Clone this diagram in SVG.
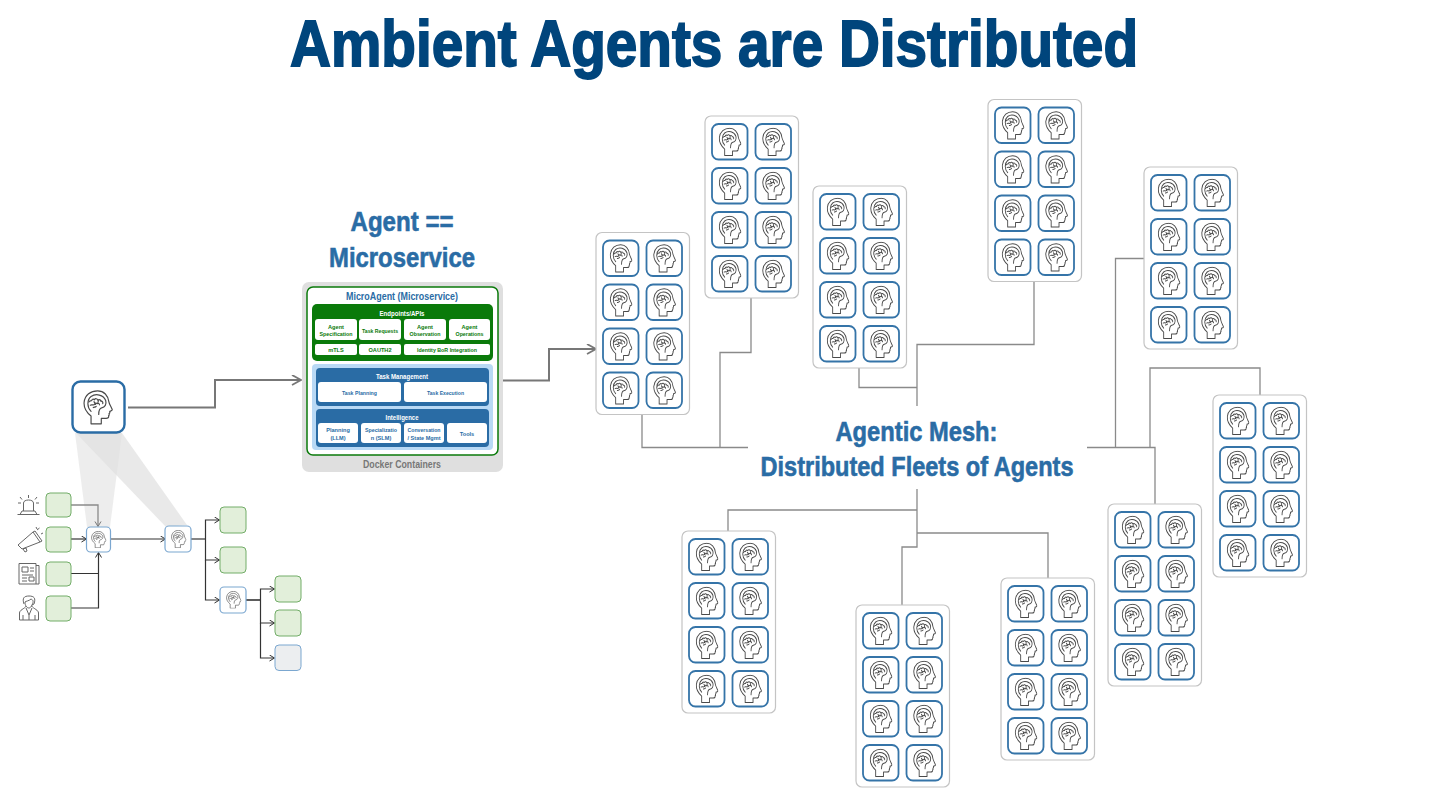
<svg xmlns="http://www.w3.org/2000/svg" width="1431" height="805" viewBox="0 0 1431 805">
<style>
text{font-family:"Liberation Sans",Arial,sans-serif;font-weight:700;text-anchor:middle}
.h{fill:#2a6ca5}
.hd{stroke:#2a6ca5;stroke-width:.6}
.fleet{fill:#fff;stroke:#c4c4c4;stroke-width:1.2}
.cell{fill:#fff;stroke:#3574a8;stroke-width:1.8}
.ic{fill:none;stroke:#4a4a4a;stroke-width:3.200;stroke-linejoin:round;stroke-linecap:round}
.ln{fill:none;stroke:#8a8a8a;stroke-width:1.3}
.big{fill:none;stroke:#777;stroke-width:2}
.bk{fill:none;stroke:#333;stroke-width:1.2}
.gr{fill:#e2efda;stroke:#72ad68;stroke-width:1}
.sm{fill:#fff;stroke:#7ba7d0;stroke-width:1.2}
.wc{fill:#fff}
.t5{font-size:5.6px}
.g{fill:#0a7a0a}
.b{fill:#2a6ca5}
.art{fill:none;stroke:#666;stroke-width:1;stroke-linejoin:round}
</style>
<defs>
<symbol id="head" viewBox="10 5 82 90" preserveAspectRatio="none">
<path class="ic" d="M32 92V72C19 62 12 50 13 37C15 18 31 7 50 7C67 7 79 19 81 36C82 42 90 53 90 56C90 59 84 59 83 60C84 63 83 65 81 66C82 68 82 70 80 71C81 76 78 78 73 78H60V92Z"/>
<path class="ic" d="M32 60C21 50 20 31 32 22C45 13 66 17 72 32C75 42 70 49 61 51C56 52 53 57 53 68"/>
<path class="ic" d="M26 36C28 32 31 34 34 32C34 29 38 27 41 30C44 26 49 27 50 31C55 28 59 31 59 34C63 33 65 37 64 40M30 44C34 41 38 46 42 42C42 39 46 37 48 40C52 38 55 40 55 43M38 50C41 48 44 50 46 47M40 35L44 42M52 33L50 40"/>
</symbol>
<g id="fleetCells">
<rect class="fleet" width="93.500" height="182" rx="6"/>
<g id="cr1"><rect class="cell" x="7" y="8" width="35.500" height="35.500" rx="6.500"/><use href="#head" x="13.500" y="11.500" width="23" height="29"/><rect class="cell" x="50.500" y="8" width="35.500" height="35.500" rx="6.500"/><use href="#head" x="57" y="11.500" width="23" height="29"/></g>
<use href="#cr1" y="44"/><use href="#cr1" y="88"/><use href="#cr1" y="132"/>
</g>
<marker id="ga" markerWidth="12" markerHeight="12" refX="9" refY="5" orient="auto" markerUnits="userSpaceOnUse"><path d="M1 0L10 5L1 10" fill="none" stroke="#777" stroke-width="1.8"/></marker>
<marker id="sa" markerWidth="8" markerHeight="8" refX="5.500" refY="3.500" orient="auto" markerUnits="userSpaceOnUse"><path d="M1 .5L6 3.500L1 6.500" fill="none" stroke="#333" stroke-width="1"/></marker>
<marker id="ha" markerWidth="8" markerHeight="8" refX="5.500" refY="3.500" orient="auto" markerUnits="userSpaceOnUse"><path d="M1 .5L6 3.500L1 6.500" fill="none" stroke="#777" stroke-width="1"/></marker>
</defs>
<rect width="1431" height="805" fill="#fff"/>
<text x="714" y="65.500" font-size="65" fill="#00457c" stroke="#00457c" stroke-width="1.800" textLength="848" lengthAdjust="spacingAndGlyphs">Ambient Agents are Distributed</text>

<g id="beams">
<polygon points="75,433 122,433 110,527 87,527" fill="#e6e6e6" opacity=".7"/>
<polygon points="76,433 122,433 187,525 166,527" fill="#e0e0e0" opacity=".7"/>
</g>

<g id="connectors">
<path class="big" d="M128 407.500H215V380H300" marker-end="url(#ga)"/>
<path class="big" d="M503 380.500H549V349H595" marker-end="url(#ga)"/>
<path class="ln" d="M642 415V447.500H748M751 298V352.500H720V447"/>
<path class="ln" d="M859 368V387.500H917M1034 282V344.500H917V406"/>
<path class="ln" d="M1144 258.500H1115.500V447M1087 447.500H1155V504M1260 395V368H1150V447"/>
<path class="ln" d="M728 531V510H917M917 489V547H902V605M1048 578V533H917"/>
<path class="ln" d="M71 505H98V526" marker-end="url(#ha)"/>
<path class="bk" d="M71 539H86" marker-end="url(#sa)"/>
<path class="bk" d="M71 573.500H98.500M71 608H98.500V553" marker-end="url(#sa)"/>
<path class="bk" d="M110.500 539H165" marker-end="url(#sa)"/>
<path class="bk" d="M191 539H205.500"/>
<path class="bk" d="M205.500 539V520H219" marker-end="url(#sa)"/>
<path class="bk" d="M205.500 539V560H219" marker-end="url(#sa)"/>
<path class="bk" d="M205.500 560V600H219" marker-end="url(#sa)"/>
<path class="bk" d="M246 600H260.500" style="stroke-width:1.6"/>
<path class="bk" d="M260.500 600V589H274" marker-end="url(#sa)"/>
<path class="bk" d="M260.500 600V623H274" marker-end="url(#sa)"/>
<path class="bk" d="M260.500 623V658H274" marker-end="url(#sa)"/>
</g>

<g id="agent-main"><rect x="72.500" y="381.500" width="52" height="51" rx="8" fill="#fff" stroke="#2a6ca5" stroke-width="2.400"/><use href="#head" x="83" y="390" width="30" height="35"/></g>

<g id="sources">
<rect class="gr" x="46" y="493" width="25" height="24" rx="4"/>
<rect class="gr" x="46" y="527" width="25" height="25" rx="4"/>
<rect class="gr" x="46" y="562" width="25" height="24" rx="4"/>
<rect class="gr" x="46" y="596" width="25" height="25" rx="4"/>
</g>
<g id="icon-siren"><path class="art" d="M17.500 514.500H39.500M20 514.500L22 511H35L37 514.500M23.500 511V503C23.500 499 33.500 499 33.500 503V511M28.500 495V498M20 497L22 499.500M37 497L35 499.500M18 503H21M36 503H39"/></g>
<g id="icon-megaphone"><path class="art" d="M18 545L33 532L40 542L22 549ZM33 532L35 531L42 541L40 542M23 549L26 548L27 551L25 552ZM37 530L39.500 528M41 534L43 533M36 527L37 529"/></g>
<g id="icon-news"><path class="art" d="M19 563.500H36V584H19ZM36 565.500H39V584H36M22 567H28V572H22ZM30 568H34M30 571H34M22 575H33M22 578H27M29 577H34V581H29ZM22 581H27"/></g>
<g id="icon-person"><path class="art" d="M19.500 620V613C19.500 610 24 609 26.500 606M38.500 620V613C38.500 610 34 609 31.500 606M19.500 620H38.500M24 604C22 598 24 596 29 596C34 596 36 598 34 604L32 605C34 601 33 600 31 599C29 601 26 601 25 602C25 606 27 608 29 608C30 608 31 607 32 605M26 608L29 615L32 608M29 615V620M23 620V615M35 620V615"/></g>

<g id="agent-a"><rect class="sm" x="86.500" y="527" width="24" height="25" rx="4"/><use href="#head" x="91" y="531" width="15.500" height="17"/></g>
<g id="agent-b"><rect class="sm" x="165" y="526" width="26" height="26" rx="4"/><use href="#head" x="171" y="530" width="15.500" height="18"/></g>
<g id="agent-c"><rect class="sm" x="220" y="587" width="26" height="26" rx="4"/><use href="#head" x="226" y="591" width="15.500" height="17.500"/></g>
<g id="outputs">
<rect class="gr" x="220" y="507" width="26" height="26" rx="4"/>
<rect class="gr" x="220" y="547" width="26" height="26" rx="4"/>
<rect class="gr" x="275" y="576" width="26" height="26" rx="4"/>
<rect class="gr" x="275" y="610" width="26" height="26" rx="4"/>
<rect x="275" y="645" width="26" height="25.500" rx="4" fill="#eceef0" stroke="#7ba7d0"/>
</g>

<text class="h hd" x="402" y="231" font-size="28" textLength="103" lengthAdjust="spacingAndGlyphs">Agent ==</text>
<text class="h hd" x="402" y="267" font-size="28" textLength="146" lengthAdjust="spacingAndGlyphs">Microservice</text>

<g id="microagent">
<rect x="302" y="282" width="201" height="190" rx="7" fill="#dfdfdf"/>
<rect x="307" y="287" width="191" height="168" rx="6" fill="#fff" stroke="#0a7a0a" stroke-width="1.500"/>
<text class="h" x="402" y="300" font-size="10.500" textLength="112" lengthAdjust="spacingAndGlyphs">MicroAgent (Microservice)</text>
<rect class="g" x="312" y="304" width="181" height="57" rx="5"/>
<text x="402" y="315.500" font-size="6.500" fill="#fff" textLength="45" lengthAdjust="spacingAndGlyphs">Endpoints/APIs</text>
<g class="wc">
<rect x="315" y="319" width="42" height="21" rx="3"/><rect x="359" y="319" width="42" height="21" rx="3"/><rect x="404" y="319" width="42" height="21" rx="3"/><rect x="449" y="319" width="41" height="21" rx="3"/>
<rect x="315" y="344" width="42" height="11" rx="2"/><rect x="359" y="344" width="42" height="11" rx="2"/><rect x="404" y="344" width="86" height="11" rx="2"/>
</g>
<g fill="#0a7a0a" class="t5">
<text x="336" y="328.500">Agent</text><text x="336" y="336" textLength="33" lengthAdjust="spacingAndGlyphs">Specification</text>
<text x="380" y="332.500" textLength="36" lengthAdjust="spacingAndGlyphs">Task Requests</text>
<text x="425" y="328.500">Agent</text><text x="425" y="336" textLength="31" lengthAdjust="spacingAndGlyphs">Observation</text>
<text x="469.500" y="328.500">Agent</text><text x="469.500" y="336" textLength="28" lengthAdjust="spacingAndGlyphs">Operations</text>
<text x="336" y="352">mTLS</text><text x="380" y="352">OAUTH2</text><text x="447" y="352" textLength="60" lengthAdjust="spacingAndGlyphs">Identity BoR Integration</text>
</g>
<rect x="312" y="364" width="181" height="86" rx="4" fill="#b9d9f5"/>
<rect class="b" x="316" y="368" width="173" height="38" rx="4"/>
<text x="402" y="378.500" font-size="6.500" fill="#fff" textLength="52" lengthAdjust="spacingAndGlyphs">Task Management</text>
<rect class="wc" x="318" y="382" width="83" height="20" rx="3"/><rect class="wc" x="404" y="382" width="83" height="20" rx="3"/>
<text class="h t5" x="359.500" y="394.500" textLength="35" lengthAdjust="spacingAndGlyphs">Task Planning</text>
<text class="h t5" x="445.500" y="394.500" textLength="37" lengthAdjust="spacingAndGlyphs">Task Execution</text>
<rect class="b" x="316" y="409" width="173" height="38" rx="4"/>
<text x="402" y="419.500" font-size="6.500" fill="#fff" textLength="33" lengthAdjust="spacingAndGlyphs">Intelligence</text>
<rect class="wc" x="318" y="423" width="40" height="20" rx="3"/><rect class="wc" x="361" y="423" width="40" height="20" rx="3"/><rect class="wc" x="404" y="423" width="40" height="20" rx="3"/><rect class="wc" x="447" y="423" width="40" height="20" rx="3"/>
<g class="h t5">
<text x="338" y="432">Planning</text><text x="338" y="440">(LLM)</text>
<text x="381" y="432" textLength="32" lengthAdjust="spacingAndGlyphs">Specializatio</text><text x="381" y="440">n (SLM)</text>
<text x="424" y="432" textLength="33" lengthAdjust="spacingAndGlyphs">Conversation</text><text x="424" y="440" textLength="33" lengthAdjust="spacingAndGlyphs">/ State Mgmt</text>
<text x="467" y="436">Tools</text>
</g>
<text x="402" y="468" font-size="10" fill="#777" textLength="78" lengthAdjust="spacingAndGlyphs">Docker Containers</text>
</g>

<g id="fleet-1"><use href="#fleetCells" x="596" y="232.500"/></g>
<g id="fleet-2"><use href="#fleetCells" x="705" y="116"/></g>
<g id="fleet-3"><use href="#fleetCells" x="813" y="186"/></g>
<g id="fleet-4"><use href="#fleetCells" x="988" y="99.500"/></g>
<g id="fleet-5"><use href="#fleetCells" x="1144" y="167"/></g>
<g id="fleet-6"><use href="#fleetCells" x="1213" y="395"/></g>
<g id="fleet-7"><use href="#fleetCells" x="1108" y="504"/></g>
<g id="fleet-8"><use href="#fleetCells" x="1001" y="578"/></g>
<g id="fleet-9"><use href="#fleetCells" x="856" y="605"/></g>
<g id="fleet-10"><use href="#fleetCells" x="682" y="531"/></g>

<text class="h hd" x="916.500" y="441" font-size="28" textLength="162" lengthAdjust="spacingAndGlyphs">Agentic Mesh:</text>
<text class="h hd" x="917" y="476" font-size="28" textLength="313" lengthAdjust="spacingAndGlyphs">Distributed Fleets of Agents</text>
</svg>
